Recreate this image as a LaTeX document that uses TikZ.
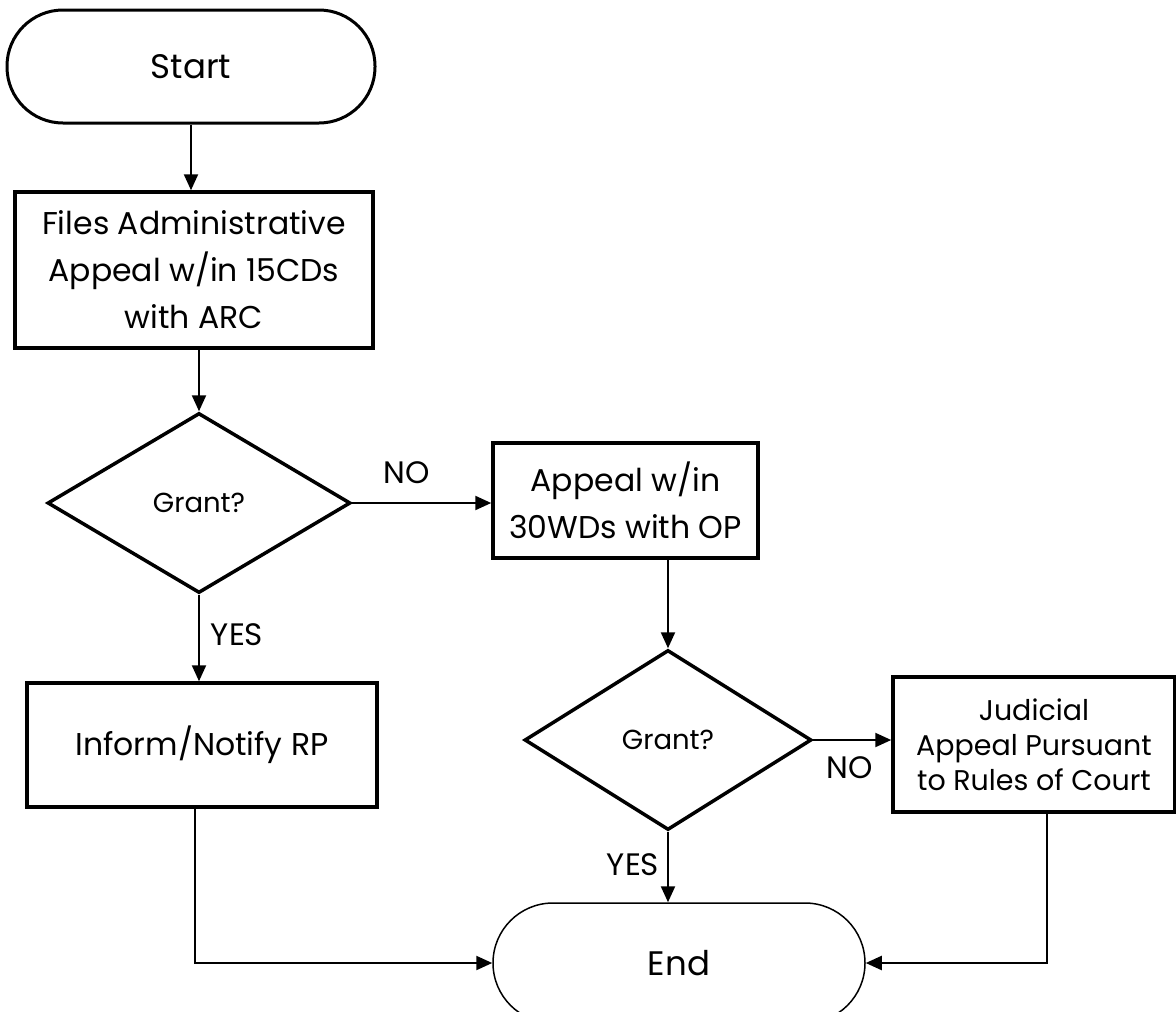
\documentclass[tikz,border=0pt]{standalone}
\usepackage{fontspec}
\setmainfont{Poppins}
\usetikzlibrary{shapes.geometric,arrows.meta}
\begin{document}
\begin{tikzpicture}[x=1pt,y=-1pt,
  box/.style={draw,line width=3.5pt,rectangle,inner sep=0pt,align=center,font=\fontsize{31.5}{47}\selectfont},
  term/.style={draw,rectangle,inner sep=0pt,font=\fontsize{34}{40}\selectfont},
  dec/.style={draw,diamond,line width=3.5pt,inner sep=0pt,font=\fontsize{27.5}{30}\selectfont},
  conn/.style={line width=2.2pt,-{Triangle[length=16pt,width=14pt]}},
  lbl/.style={font=\fontsize{31}{34}\selectfont,inner sep=0pt},
]
\useasboundingbox[fill=white] (0,0) rectangle (1176,1012);
\node[term,line width=3pt,minimum width=368pt,minimum height=113pt,rounded corners=56pt] (start) at (191,66.5) {Start};
\node[box,minimum width=358pt,minimum height=156pt] (files) at (194,270) {Files Administrative\\Appeal w/in 15CDs\\with ARC};
\node[dec,minimum width=303pt,minimum height=180pt] (d1) at (199,503) {Grant?};
\node[box,minimum width=265pt,minimum height=115pt] (op) at (625.5,500.5) {Appeal w/in\\30WDs with OP};
\node[dec,minimum width=287pt,minimum height=180pt] (d2) at (668,740) {Grant?};
\node[box,minimum width=282pt,minimum height=135pt,font=\fontsize{28.5}{35}\selectfont] (jud) at (1034,744.5) {Judicial\\Appeal Pursuant\\to Rules of Court};
\node[box,minimum width=350pt,minimum height=124pt] (inf) at (202,745) {Inform/Notify RP};
\node[term,line width=1.5pt,minimum width=372pt,minimum height=120pt,rounded corners=60pt] (end) at (679,963) {End};

\draw[conn] (start.south) -- (start.south |- files.north);
\draw[conn] (d1.north |- files.south) -- (d1.north);
\draw[conn] (d1.east) -- (d1.east -| op.west);
\node[lbl] (no1) at (407,473) {NO};
\draw[conn] (d1.south) -- (d1.south |- inf.north);
\node[lbl] (yes1) at (237,635) {YES};
\draw[conn] (d2.north |- op.south) -- (d2.north);
\draw[conn] (d2.east) -- (d2.east -| jud.west);
\node[lbl] (no2) at (850,768) {NO};
\draw[conn] (d2.south) -- (d2.south |- end.north);
\node[lbl] (yes2) at (633,865) {YES};
\coordinate (c1) at (195,963);
\draw[conn] (c1 |- inf.south) -- (c1) -- (end.west);
\coordinate (c2) at (1047,963);
\draw[conn] (c2 |- jud.south) -- (c2) -- (end.east);
\end{tikzpicture}
\end{document}
